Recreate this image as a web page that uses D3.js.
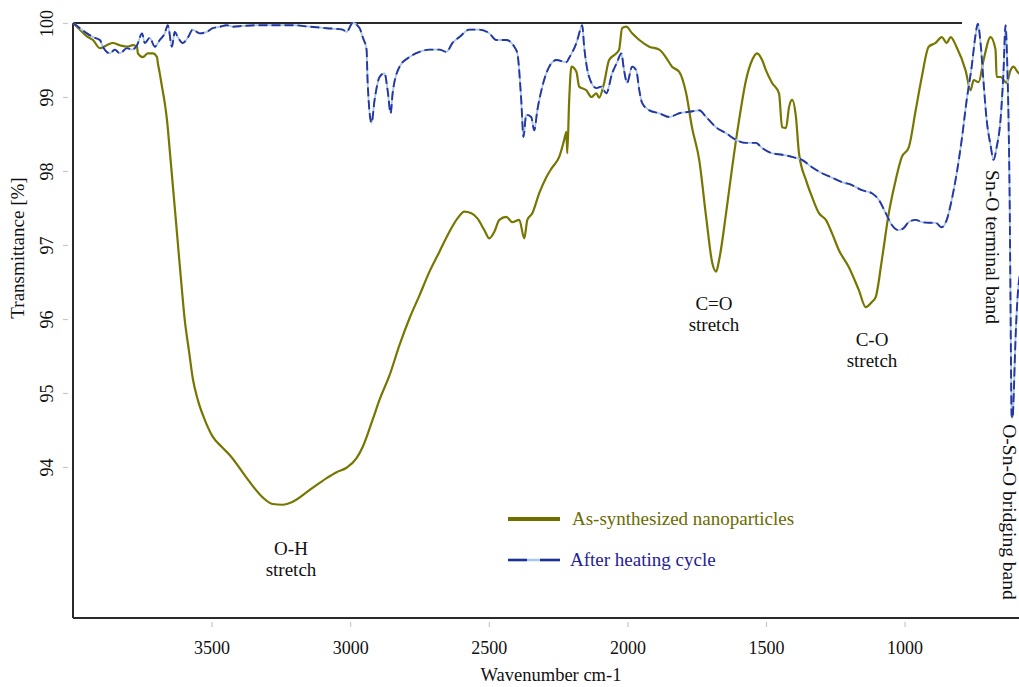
<!DOCTYPE html>
<html><head><meta charset="utf-8">
<script src="https://cdn.jsdelivr.net/npm/d3@7/dist/d3.min.js"></script>
<style>
html,body{margin:0;padding:0;background:#fff;}
text{font-family:"Liberation Serif","Times New Roman",serif;}
</style></head>
<body><svg id="c" width="1019" height="687"></svg>
<script>
// ---- data ----
const seriesNames = ["As-synthesized nanoparticles", "After heating cycle"];
const xTicks = [3500, 3000, 2500, 2000, 1500, 1000];
const yTicks = [94, 95, 96, 97, 98, 99, 100];

const wnGreen = [4000,3975,3950,3928,3903,3878,3856,3831,3805,3784,3769,3766,3748,3730,3712,3697,3694,3687,3679,3669,3661,3651,3640,3629,3618,3607,3597,3582,3568,3550,3525,3496,3463,3434,3373,3316,3280,3244,3207,3146,3085,3049,3013,2977,2955,2919,2894,2858,2822,2786,2750,2714,2678,2642,2613,2588,2563,2541,2516,2498,2480,2462,2437,2415,2390,2372,2361,2343,2318,2292,2271,2246,2228,2220,2217,2210,2202,2184,2174,2148,2130,2112,2102,2084,2066,2040,2030,2019,2004,1983,1957,1921,1885,1860,1839,1813,1788,1767,1741,1716,1694,1680,1669,1644,1622,1597,1572,1550,1532,1514,1500,1478,1453,1442,1428,1417,1406,1392,1381,1356,1334,1309,1284,1262,1237,1201,1165,1140,1118,1104,1082,1057,1032,1010,985,960,938,913,888,866,848,834,813,780,762,751,733,715,690,672,668,654,632,618,607,593,582];
const tGreen = [100.00,99.91,99.82,99.77,99.66,99.70,99.73,99.70,99.68,99.70,99.68,99.59,99.54,99.59,99.59,99.54,99.46,99.32,99.14,98.92,98.69,98.28,97.81,97.34,96.86,96.39,95.99,95.58,95.20,94.91,94.64,94.41,94.27,94.16,93.85,93.59,93.50,93.49,93.53,93.69,93.85,93.93,93.99,94.12,94.27,94.64,94.91,95.24,95.65,96.01,96.32,96.64,96.91,97.18,97.36,97.45,97.43,97.36,97.20,97.09,97.18,97.34,97.38,97.31,97.34,97.09,97.34,97.43,97.70,97.92,98.05,98.19,98.42,98.53,98.24,98.96,99.41,99.34,99.14,99.09,99.00,99.05,98.99,99.19,99.50,99.59,99.64,99.93,99.95,99.86,99.77,99.68,99.64,99.53,99.41,99.34,99.05,98.59,98.15,97.38,96.76,96.64,96.80,97.43,98.05,98.69,99.23,99.50,99.59,99.50,99.36,99.19,99.05,98.59,98.58,98.86,98.96,98.73,98.24,97.88,97.65,97.43,97.34,97.16,96.93,96.70,96.39,96.16,96.23,96.30,96.80,97.43,97.88,98.19,98.32,98.82,99.27,99.68,99.73,99.81,99.73,99.81,99.68,99.36,99.09,99.23,99.20,99.50,99.81,99.64,99.27,99.27,99.19,99.36,99.41,99.34,99.30];

const wnBlue = [4000,3975,3950,3928,3903,3892,3867,3849,3831,3805,3787,3769,3751,3741,3723,3705,3687,3669,3658,3643,3633,3622,3604,3586,3568,3543,3517,3496,3470,3445,3424,3388,3326,3265,3207,3146,3085,3027,3013,2991,2966,2955,2941,2937,2923,2912,2894,2876,2865,2854,2847,2822,2786,2750,2714,2678,2653,2631,2606,2570,2534,2498,2473,2437,2408,2397,2383,2375,2365,2347,2336,2325,2307,2282,2256,2220,2210,2184,2166,2163,2156,2138,2112,2094,2076,2055,2037,2022,2012,2001,1983,1968,1957,1947,1921,1885,1849,1813,1777,1741,1716,1680,1644,1608,1572,1536,1514,1478,1442,1406,1370,1334,1298,1262,1226,1190,1154,1118,1093,1068,1046,1021,1003,985,960,938,913,888,866,848,830,812,794,776,758,744,736,726,715,704,690,679,668,654,643,636,629,625,621,618,614,610,607,600,593,582];
const tBlue = [100.00,99.93,99.86,99.81,99.77,99.68,99.59,99.64,99.59,99.66,99.64,99.70,99.86,99.73,99.80,99.68,99.77,99.86,99.97,99.68,99.88,99.81,99.73,99.80,99.91,99.86,99.88,99.93,99.95,99.97,99.95,99.96,99.97,99.97,99.97,99.95,99.93,99.91,99.88,100.00,99.93,99.81,99.64,99.19,98.65,98.96,99.27,99.32,99.09,98.78,99.05,99.41,99.54,99.61,99.64,99.64,99.61,99.73,99.81,99.91,99.91,99.86,99.77,99.77,99.68,99.59,98.96,98.46,98.76,98.73,98.55,98.82,99.14,99.41,99.50,99.47,99.53,99.73,99.95,99.97,99.68,99.27,99.12,99.14,99.05,99.32,99.47,99.59,99.36,99.19,99.41,99.36,99.09,98.92,98.82,98.78,98.73,98.78,98.80,98.82,98.73,98.59,98.51,98.42,98.38,98.38,98.31,98.24,98.22,98.19,98.15,98.05,97.97,97.91,97.85,97.81,97.74,97.70,97.61,97.43,97.27,97.20,97.23,97.31,97.34,97.31,97.30,97.30,97.24,97.34,97.61,97.97,98.42,98.96,99.41,99.84,99.99,99.73,99.19,98.69,98.35,98.15,98.32,98.69,99.36,99.97,99.36,98.69,97.61,96.26,94.70,94.66,94.91,95.72,96.26,96.66];

// ---- layout ----
const svg = d3.select("#c");
const L = 73, T = 23, B = 618;
const x = d3.scaleLinear().domain([4000, 400]).range([L, L + 3600 * 0.2772]);
const y = d3.scaleLinear().domain([92, 100]).range([615, T]);

const green = wnGreen.map((w, i) => ({w, t: tGreen[i]}));
const blue = wnBlue.map((w, i) => ({w, t: tBlue[i]}));
const lineGen = d3.line().x(d => x(d.w)).y(d => y(d.t)).curve(d3.curveMonotoneX);

// axes
const xAxis = svg.append("g").attr("transform", `translate(0,${B + 4})`)
  .call(d3.axisBottom(x).tickValues(xTicks).tickSize(5).tickPadding(14).tickFormat(d3.format("d")));
xAxis.select(".domain").remove();
xAxis.selectAll("line").attr("stroke", "#c8c8c8").attr("stroke-width", 1.2);
xAxis.selectAll("text").attr("font-size", 18).attr("fill", "#111").attr("font-family", "Liberation Serif");

const yAxis = svg.append("g").attr("transform", `translate(${L - 5},0)`)
  .call(d3.axisLeft(y).tickValues(yTicks).tickSize(5).tickFormat(d3.format("d")));
yAxis.select(".domain").remove();
yAxis.selectAll("line").attr("stroke", "#c8c8c8").attr("stroke-width", 1.2);
yAxis.selectAll("text")
  .attr("font-size", 18).attr("fill", "#111").attr("font-family", "Liberation Serif")
  .attr("text-anchor", "middle").attr("x", 0).attr("y", -15).attr("dy", 0)
  .attr("transform", "rotate(-90)");

// frame
svg.append("line").attr("x1", L).attr("x2", L).attr("y1", T).attr("y2", B).attr("stroke", "#2a2a2a").attr("stroke-width", 2);
svg.append("line").attr("x1", L).attr("x2", 962).attr("y1", T).attr("y2", T).attr("stroke", "#2a2a2a").attr("stroke-width", 2);
svg.append("line").attr("x1", L).attr("x2", 1019).attr("y1", B).attr("y2", B).attr("stroke", "#2a2a2a").attr("stroke-width", 2);

// series
svg.append("path").datum(green).attr("d", lineGen).attr("fill", "none").attr("stroke", "#767600").attr("stroke-width", 2.2);
svg.append("path").datum(blue).attr("d", lineGen).attr("fill", "none").attr("stroke", "#a9c6e8").attr("stroke-width", 1.8);
svg.append("path").datum(blue).attr("d", lineGen).attr("fill", "none").attr("stroke", "#2537a3").attr("stroke-width", 1.9).attr("stroke-dasharray", "9,4");

// axis titles
svg.append("text").attr("transform", "translate(24,248) rotate(-90)").attr("text-anchor", "middle")
  .attr("font-size", 19).attr("fill", "#111").text("Transmittance [%]");
svg.append("text").attr("x", 551).attr("y", 681).attr("text-anchor", "middle")
  .attr("font-size", 18.5).attr("fill", "#111").text("Wavenumber cm-1");

// legend
const lg = svg.append("g");
lg.append("line").attr("x1", 508).attr("x2", 560).attr("y1", 519).attr("y2", 519).attr("stroke", "#6f6f00").attr("stroke-width", 4);
lg.append("text").attr("x", 572).attr("y", 525).attr("font-size", 19).attr("fill", "#6b6b00").text(seriesNames[0]);
lg.append("line").attr("x1", 508).attr("x2", 560).attr("y1", 560).attr("y2", 560).attr("stroke", "#a9c6e8").attr("stroke-width", 2.5);
lg.append("line").attr("x1", 508).attr("x2", 560).attr("y1", 560).attr("y2", 560).attr("stroke", "#1f2f9a").attr("stroke-width", 2.5).attr("stroke-dasharray", "19,13,20");
lg.append("text").attr("x", 570).attr("y", 566).attr("font-size", 19).attr("fill", "#1f2196").text(seriesNames[1]);

// annotations
function ann(xc, lines, y0) {
  lines.forEach((s, i) => svg.append("text").attr("x", xc).attr("y", y0 + i * 21).attr("text-anchor", "middle")
    .attr("font-size", 19).attr("fill", "#111").text(s));
}
ann(291, ["O-H", "stretch"], 555);
ann(714, ["C=O", "stretch"], 310);
ann(872, ["C-O", "stretch"], 346);
svg.append("text").attr("transform", "translate(986,247) rotate(90)").attr("text-anchor", "middle")
  .attr("font-size", 19.5).attr("fill", "#111").text("Sn-O terminal band");
svg.append("text").attr("transform", "translate(1003,512) rotate(90)").attr("text-anchor", "middle")
  .attr("font-size", 19.5).attr("fill", "#111").text("O-Sn-O bridging band");
</script></body></html>
